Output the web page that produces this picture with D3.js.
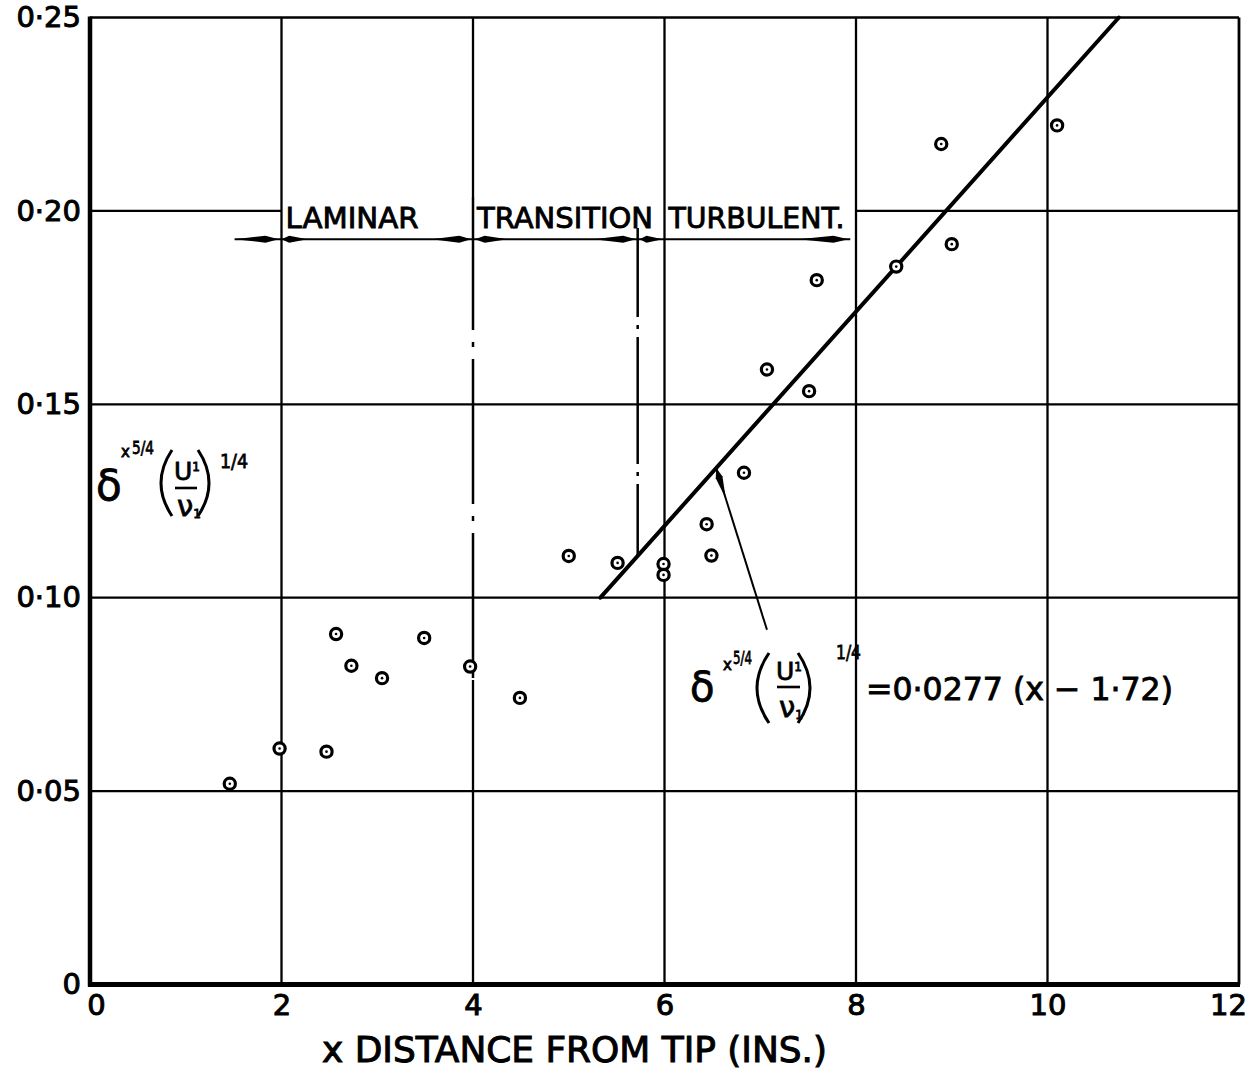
<!DOCTYPE html>
<html>
<head>
<meta charset="utf-8">
<script src="https://cdn.jsdelivr.net/npm/d3@7"></script>
<style>
  body { margin: 0; background: #fff; }
  text { font-family: "DejaVu Sans", sans-serif; fill: #000; }
</style>
</head>
<body>
<svg id="chart" width="1255" height="1076"></svg>
<script>
// Measured boundary-layer parameter against distance from the tip
const xValues = [1.46, 1.98, 2.47, 2.57, 2.73, 3.05, 3.49, 3.97, 4.49, 5.00, 5.51, 5.99,
                 5.99, 6.44, 6.49, 6.83, 7.07, 7.51, 7.59, 8.42, 8.89, 9.00, 10.10];
const yValues = [0.0519, 0.0610, 0.0602, 0.0906, 0.0824, 0.0792, 0.0896, 0.0822, 0.0741,
                 0.1108, 0.1090, 0.1087, 0.1059, 0.1190, 0.1109, 0.1323, 0.1590, 0.1534,
                 0.1821, 0.1856, 0.2173, 0.1914, 0.2221];

const xTicks = [0, 2, 4, 6, 8, 10, 12];
const xTickLabels = ["0", "2", "4", "6", "8", "10", "12"];
const yTicks = [0, 0.05, 0.10, 0.15, 0.20, 0.25];
const yTickLabels = ["0", "0·05", "0·10", "0·15", "0·20", "0·25"];

// Turbulent fit: value = 0.0277 (x - 1.72)
const fitSlope = 0.0277;
const fitOrigin = 1.72;
const fitStartY = 0.10;
const fitEndY = 0.25;

// Flow regimes and their boundaries along x
const regimeNames = ["LAMINAR", "TRANSITION", "TURBULENT."];
const regimeLabelX = [2, 4, 6];
const laminarEnd = 4;
const transitionEnd = 5.72;

const svg = d3.select("#chart");
const x = d3.scaleLinear().domain([0, 12]).range([90, 1239]);
const y = d3.scaleLinear().domain([0, 0.25]).range([984.5, 17.5]);
const fit = v => fitSlope * (v - fitOrigin);
const fitInv = v => v / fitSlope + fitOrigin;

svg.append("rect").attr("width", 1255).attr("height", 1076).attr("fill", "#fff");

// ---- horizontal grid (0.20 line is left open where the regime labels sit)
const hSegs = [];
yTicks.filter(v => v > 0).forEach(v => {
  if (Math.abs(v - 0.20) < 1e-9) { hSegs.push([0, 2, v], [8, 12, v]); }
  else hSegs.push([0, 12, v]);
});
svg.append("g").selectAll("line").data(hSegs).join("line")
  .attr("x1", d => x(d[0])).attr("x2", d => x(d[1]))
  .attr("y1", d => y(d[2])).attr("y2", d => y(d[2]))
  .attr("stroke", "#000").attr("stroke-width", 2.3);

// ---- vertical grid (x = 4 is broken by the laminar boundary line)
const boundaryTop = 0.2036, boundaryBottom = 0.0787;
const vSegs = [];
xTicks.filter(v => v > 0).forEach(v => {
  if (v === laminarEnd) { vSegs.push([v, boundaryTop, 0.25], [v, 0, boundaryBottom]); }
  else vSegs.push([v, 0, 0.25]);
});
svg.append("g").selectAll("line").data(vSegs).join("line")
  .attr("x1", d => x(d[0])).attr("x2", d => x(d[0]))
  .attr("y1", d => y(d[1])).attr("y2", d => y(d[2]))
  .attr("stroke", "#000").attr("stroke-width", d => d[0] === 12 ? 2.8 : 2.3);

// ---- dash-dot regime boundaries
svg.append("line")
  .attr("x1", x(laminarEnd)).attr("x2", x(laminarEnd))
  .attr("y1", y(boundaryTop)).attr("y2", y(boundaryBottom))
  .attr("stroke", "#000").attr("stroke-width", 2.5)
  .attr("stroke-dasharray", "145 12 5 12").attr("stroke-dashoffset", 12);
svg.append("line")
  .attr("x1", x(transitionEnd)).attr("x2", x(transitionEnd))
  .attr("y1", y(0.1956)).attr("y2", y(fit(transitionEnd)))
  .attr("stroke", "#000").attr("stroke-width", 2.5)
  .attr("stroke-dasharray", "127 8 4 8").attr("stroke-dashoffset", 38);

// ---- axes
const fontAxis = "DejaVu Sans, sans-serif";
const xAxis = svg.append("g").attr("transform", `translate(0,${y(0)})`)
  .call(d3.axisBottom(x).tickValues(xTicks).tickFormat((d, i) => xTickLabels[i])
    .tickSize(0).tickSizeOuter(0).tickPadding(10));
const yAxis = svg.append("g").attr("transform", `translate(${x(0)},0)`)
  .call(d3.axisLeft(y).tickValues(yTicks).tickFormat((d, i) => yTickLabels[i])
    .tickSize(0).tickSizeOuter(0).tickPadding(9));
[xAxis, yAxis].forEach(a => {
  a.attr("font-family", fontAxis).attr("font-size", 29);
  a.selectAll("text").attr("fill", "#000").attr("stroke", "#000").attr("stroke-width", 1);
});
// nudge the end labels inward along the x axis
xAxis.selectAll(".tick text").attr("dx", d => d === 0 ? 6 : d === 12 ? -11 : 0);
xAxis.select(".domain").attr("stroke", "#000").attr("stroke-width", 5)
  .attr("d", `M${x(0) - 2},0H${x(12) + 1}`);
yAxis.select(".domain").attr("stroke", "#000").attr("stroke-width", 4.5)
  .attr("d", `M0,${y(0) + 2}V${y(0.25) - 1}`);

// ---- axis title
svg.append("text")
  .attr("x", 322).attr("y", 1062)
  .attr("font-size", 35).attr("textLength", 505).attr("lengthAdjust", "spacingAndGlyphs")
  .attr("stroke", "#000").attr("stroke-width", 1)
  .text("x DISTANCE FROM TIP (INS.)");

// ---- regime labels and dimension arrows
const arrowY = 0.1927;
svg.append("g").selectAll("text").data(regimeNames).join("text")
  .attr("x", (d, i) => x(regimeLabelX[i]) + 4)
  .attr("y", 228)
  .attr("font-size", 29)
  .attr("textLength", (d, i) => [133, 176, 176][i])
  .attr("lengthAdjust", "spacingAndGlyphs")
  .attr("stroke", "#000").attr("stroke-width", 0.9)
  .text(d => d);

svg.append("line")
  .attr("x1", x(1.51)).attr("x2", x(7.94))
  .attr("y1", y(arrowY)).attr("y2", y(arrowY))
  .attr("stroke", "#000").attr("stroke-width", 2);

function kite(tail, tip, w) {
  const dx = tip[0] - tail[0], dy = tip[1] - tail[1];
  const len = Math.hypot(dx, dy), ux = dx / len, uy = dy / len;
  const bx = tip[0] - ux * len * 0.3, by = tip[1] - uy * len * 0.3;
  const nx = -uy * w / 2, ny = ux * w / 2;
  return `M${tail[0]},${tail[1]}L${bx + nx},${by + ny}L${tip[0]},${tip[1]}L${bx - nx},${by - ny}Z`;
}
const arrowKites = [[1.51, 1.97], [2.27, 2.0], [3.57, 3.98], [4.36, 4.02],
                    [5.26, 5.70], [5.98, 5.74], [7.40, 7.92]];
svg.append("g").selectAll("path").data(arrowKites).join("path")
  .attr("d", d => kite([x(d[0]), y(arrowY)], [x(d[1]), y(arrowY)], 7))
  .attr("fill", "#000");

// ---- fitted line
const fitX0 = fitInv(fitStartY), fitX1 = fitInv(fitEndY);
svg.append("line")
  .attr("x1", x(fitX0)).attr("y1", y(fit(fitX0)))
  .attr("x2", x(fitX1)).attr("y2", y(fit(fitX1)))
  .attr("stroke", "#000").attr("stroke-width", 4).attr("stroke-linecap", "round");

// ---- data points: ringed dots
const pts = svg.append("g").selectAll("g").data(xValues.map((v, i) => [v, yValues[i]])).join("g")
  .attr("transform", d => `translate(${x(d[0])},${y(d[1])})`);
pts.append("circle").attr("r", 5.6).attr("fill", "#fff").attr("stroke", "#000").attr("stroke-width", 3.2);
pts.append("circle").attr("r", 1.3).attr("fill", "#000");

// ---- expression  δ x^5/4 (U1/ν1)^1/4
function drawExpr(ox, oy, o) {
  const g = svg.append("g").attr("transform", `translate(${ox},${oy})`);
  const t = (txt, tx, ty, size, len) => {
    const e = g.append("text").attr("x", tx).attr("y", ty).attr("font-size", size)
      .attr("stroke", "#000").attr("stroke-width", 0.8).text(txt);
    if (len) e.attr("textLength", len).attr("lengthAdjust", "spacingAndGlyphs");
    return e;
  };
  t("δ", 0, 0, o.delta);
  t("x", o.xs[0], o.xs[1], 15);
  t("5/4", o.f1[0], o.f1[1], 18, o.f1[2]);
  const paren = (x0, x1, top, bot, left) => {
    const mid = (top + bot) / 2;
    const d = left
      ? `M${x1},${top}Q${x0 - 7},${mid} ${x1},${bot}`
      : `M${x0},${top}Q${x1 + 7},${mid} ${x0},${bot}`;
    g.append("path").attr("d", d).attr("fill", "none").attr("stroke", "#000").attr("stroke-width", 3);
  };
  paren(o.pl[0], o.pl[1], o.pv[0], o.pv[1], true);
  paren(o.pr[0], o.pr[1], o.pv[0], o.pv[1], false);
  const num = t("U", o.u[0], o.u[1], 25);
  num.append("tspan").attr("font-size", 12).attr("dy", -9).text("1");
  g.append("line").attr("x1", o.bar[0]).attr("x2", o.bar[1]).attr("y1", o.bar[2]).attr("y2", o.bar[2])
    .attr("stroke", "#000").attr("stroke-width", 2.6);
  const den = t("ν", o.v[0], o.v[1], 29);
  den.append("tspan").attr("font-size", 12).attr("dy", 2).text("1");
  t("1/4", o.f2[0], o.f2[1], 20, o.f2[2]);
}

// axis quantity beside the y axis
drawExpr(96, 500, {
  delta: 42, xs: [25, -43], f1: [36, -46, 22],
  pl: [61, 76], pr: [102, 117], pv: [-50, 16],
  u: [78, -20], bar: [79, 101, -12], v: [81, 16],
  f2: [124, -32, 28]
});

// fitted-line equation
drawExpr(690, 701, {
  delta: 40, xs: [33, -31], f1: [43, -37, 19],
  pl: [62, 79], pr: [108, 125], pv: [-48, 22],
  u: [86, -21], bar: [87, 110, -14], v: [89, 16],
  f2: [146, -42, 25]
});
svg.append("text")
  .attr("x", 866).attr("y", 700).attr("font-size", 32)
  .attr("textLength", 307).attr("lengthAdjust", "spacingAndGlyphs")
  .attr("stroke", "#000").attr("stroke-width", 0.9)
  .text("=0·0277 (x − 1·72)");

// leader from the equation to the fitted line
const leadTipX = 6.54, leadTail = [7.07, 0.0917];
svg.append("line")
  .attr("x1", x(leadTail[0])).attr("y1", y(leadTail[1]))
  .attr("x2", x(leadTipX)).attr("y2", y(fit(leadTipX)))
  .attr("stroke", "#000").attr("stroke-width", 2);
{
  const tip = [x(leadTipX), y(fit(leadTipX))];
  const tail = [x(leadTail[0]), y(leadTail[1])];
  const L = Math.hypot(tail[0] - tip[0], tail[1] - tip[1]);
  const base = [tip[0] + (tail[0] - tip[0]) * 32 / L, tip[1] + (tail[1] - tip[1]) * 32 / L];
  svg.append("path").attr("d", kite(base, tip, 7)).attr("fill", "#000");
}
</script>
</body>
</html>
